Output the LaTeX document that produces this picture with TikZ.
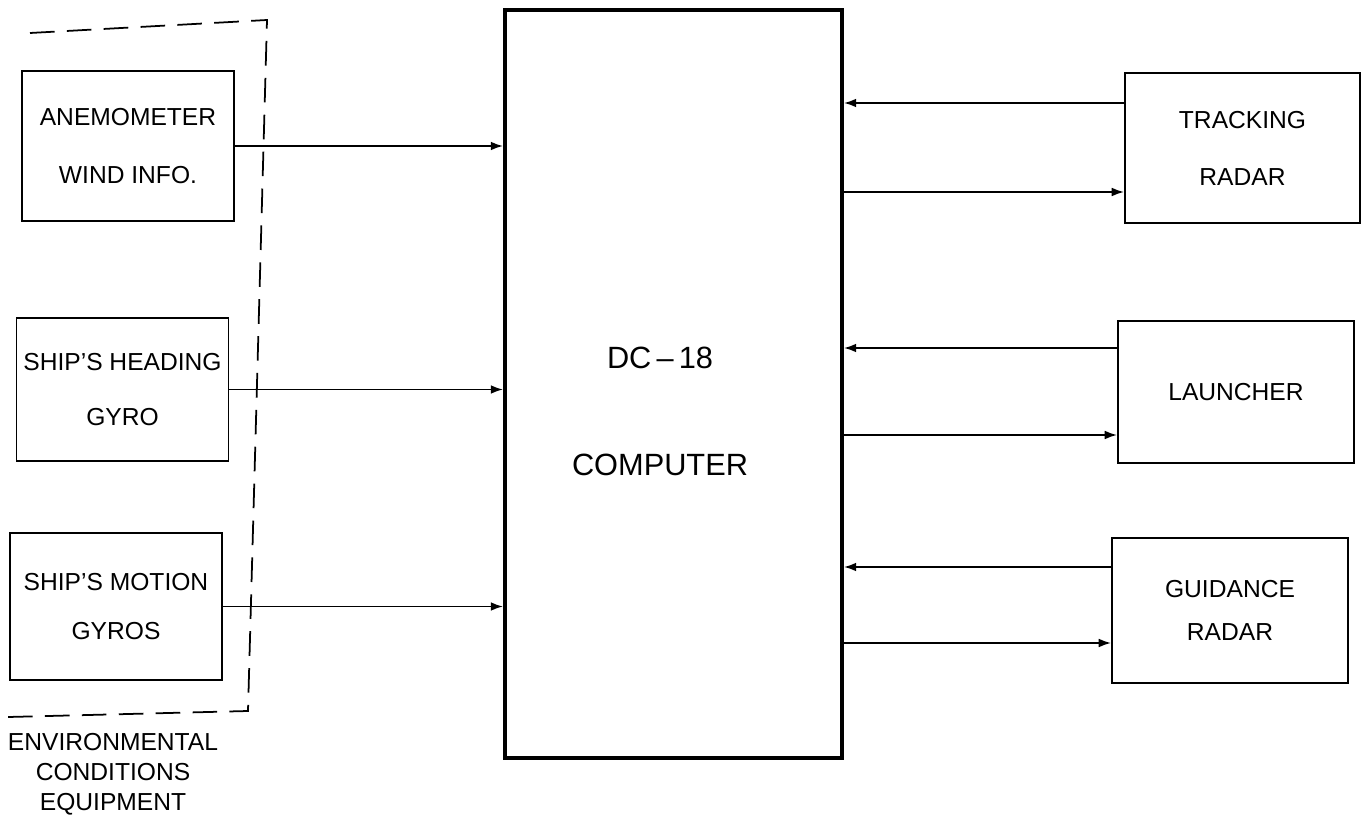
\documentclass[tikz,border=0pt]{standalone}
\usepackage{fontspec}
\setmainfont{Liberation Sans}
\usetikzlibrary{calc,positioning,arrows.meta}

\begin{document}
\begin{tikzpicture}[
  every node/.style={font=\fontsize{14}{17}\selectfont},
  unit/.style={draw=black, line width=1.1pt, minimum width=4.24cm, minimum height=2.9cm, inner sep=0pt, align=center},
  cpu/.style={draw=black, line width=2.2pt, minimum width=6.74cm, minimum height=14.96cm, inner sep=0pt},
  bigtxt/.style={align=center, font=\fontsize{17.5}{21}\selectfont},
  feed/.style={-{Latex[length=7pt,width=5pt]}, line width=1pt},
  envline/.style={dash pattern=on 14pt off 7pt, line width=1pt}
]
  \useasboundingbox (0,0) rectangle (27.28,-16.46);

  % environmental conditions equipment
  \node[unit, minimum height=3cm] (anem) at (2.56,-2.92) {ANEMOMETER\\[5.8mm]WIND INFO.};
  \node[unit, minimum height=2.86cm] (head) at (2.45,-7.79) {SHIP'S HEADING\\[5mm]GYRO};
  \node[unit, minimum height=2.94cm] (motion) at (2.32,-12.13) {SHIP'S MOTION\\[4mm]GYROS};
  \draw[envline] (0.6,-0.66) -- (5.34,-0.4) -- (4.96,-14.22) -- (0.16,-14.34);
  \node[align=center] (envlbl) at (2.26,-15.48) {ENVIRONMENTAL\\CONDITIONS\\EQUIPMENT};

  % computer
  \node[cpu] (comp) at (13.47,-7.68) {};
  \node[bigtxt] (comptxt) at (13.2,-8.22) {DC\,--\,18\\[14mm]COMPUTER};

  % ship units
  \node[unit, minimum width=4.7cm, minimum height=3cm] (trk) at (24.85,-2.96) {TRACKING\\[5.4mm]RADAR};
  \node[unit, minimum width=4.72cm, minimum height=2.84cm] (lau) at (24.72,-7.84) {LAUNCHER};
  \node[unit, minimum width=4.72cm] (gui) at (24.6,-12.21) {GUIDANCE\\[2.6mm]RADAR};

  \draw[feed] (anem.east) -- (anem.east -| comp.west);
  \draw[feed] (head.east) -- (head.east -| comp.west);
  \draw[feed] (motion.east) -- (motion.east -| comp.west);

  \draw[feed] ($(trk.west)+(0,0.9)$) -- ($(trk.west -| comp.east)+(0,0.9)$);
  \draw[feed] ($(trk.west -| comp.east)+(0,-0.88)$) -- ($(trk.west)+(0,-0.88)$);
  \draw[feed] ($(lau.west)+(0,0.88)$) -- ($(lau.west -| comp.east)+(0,0.88)$);
  \draw[feed] ($(lau.west -| comp.east)+(0,-0.86)$) -- ($(lau.west)+(0,-0.86)$);
  \draw[feed] ($(gui.west)+(0,0.87)$) -- ($(gui.west -| comp.east)+(0,0.87)$);
  \draw[feed] ($(gui.west -| comp.east)+(0,-0.65)$) -- ($(gui.west)+(0,-0.65)$);
\end{tikzpicture}
\end{document}
